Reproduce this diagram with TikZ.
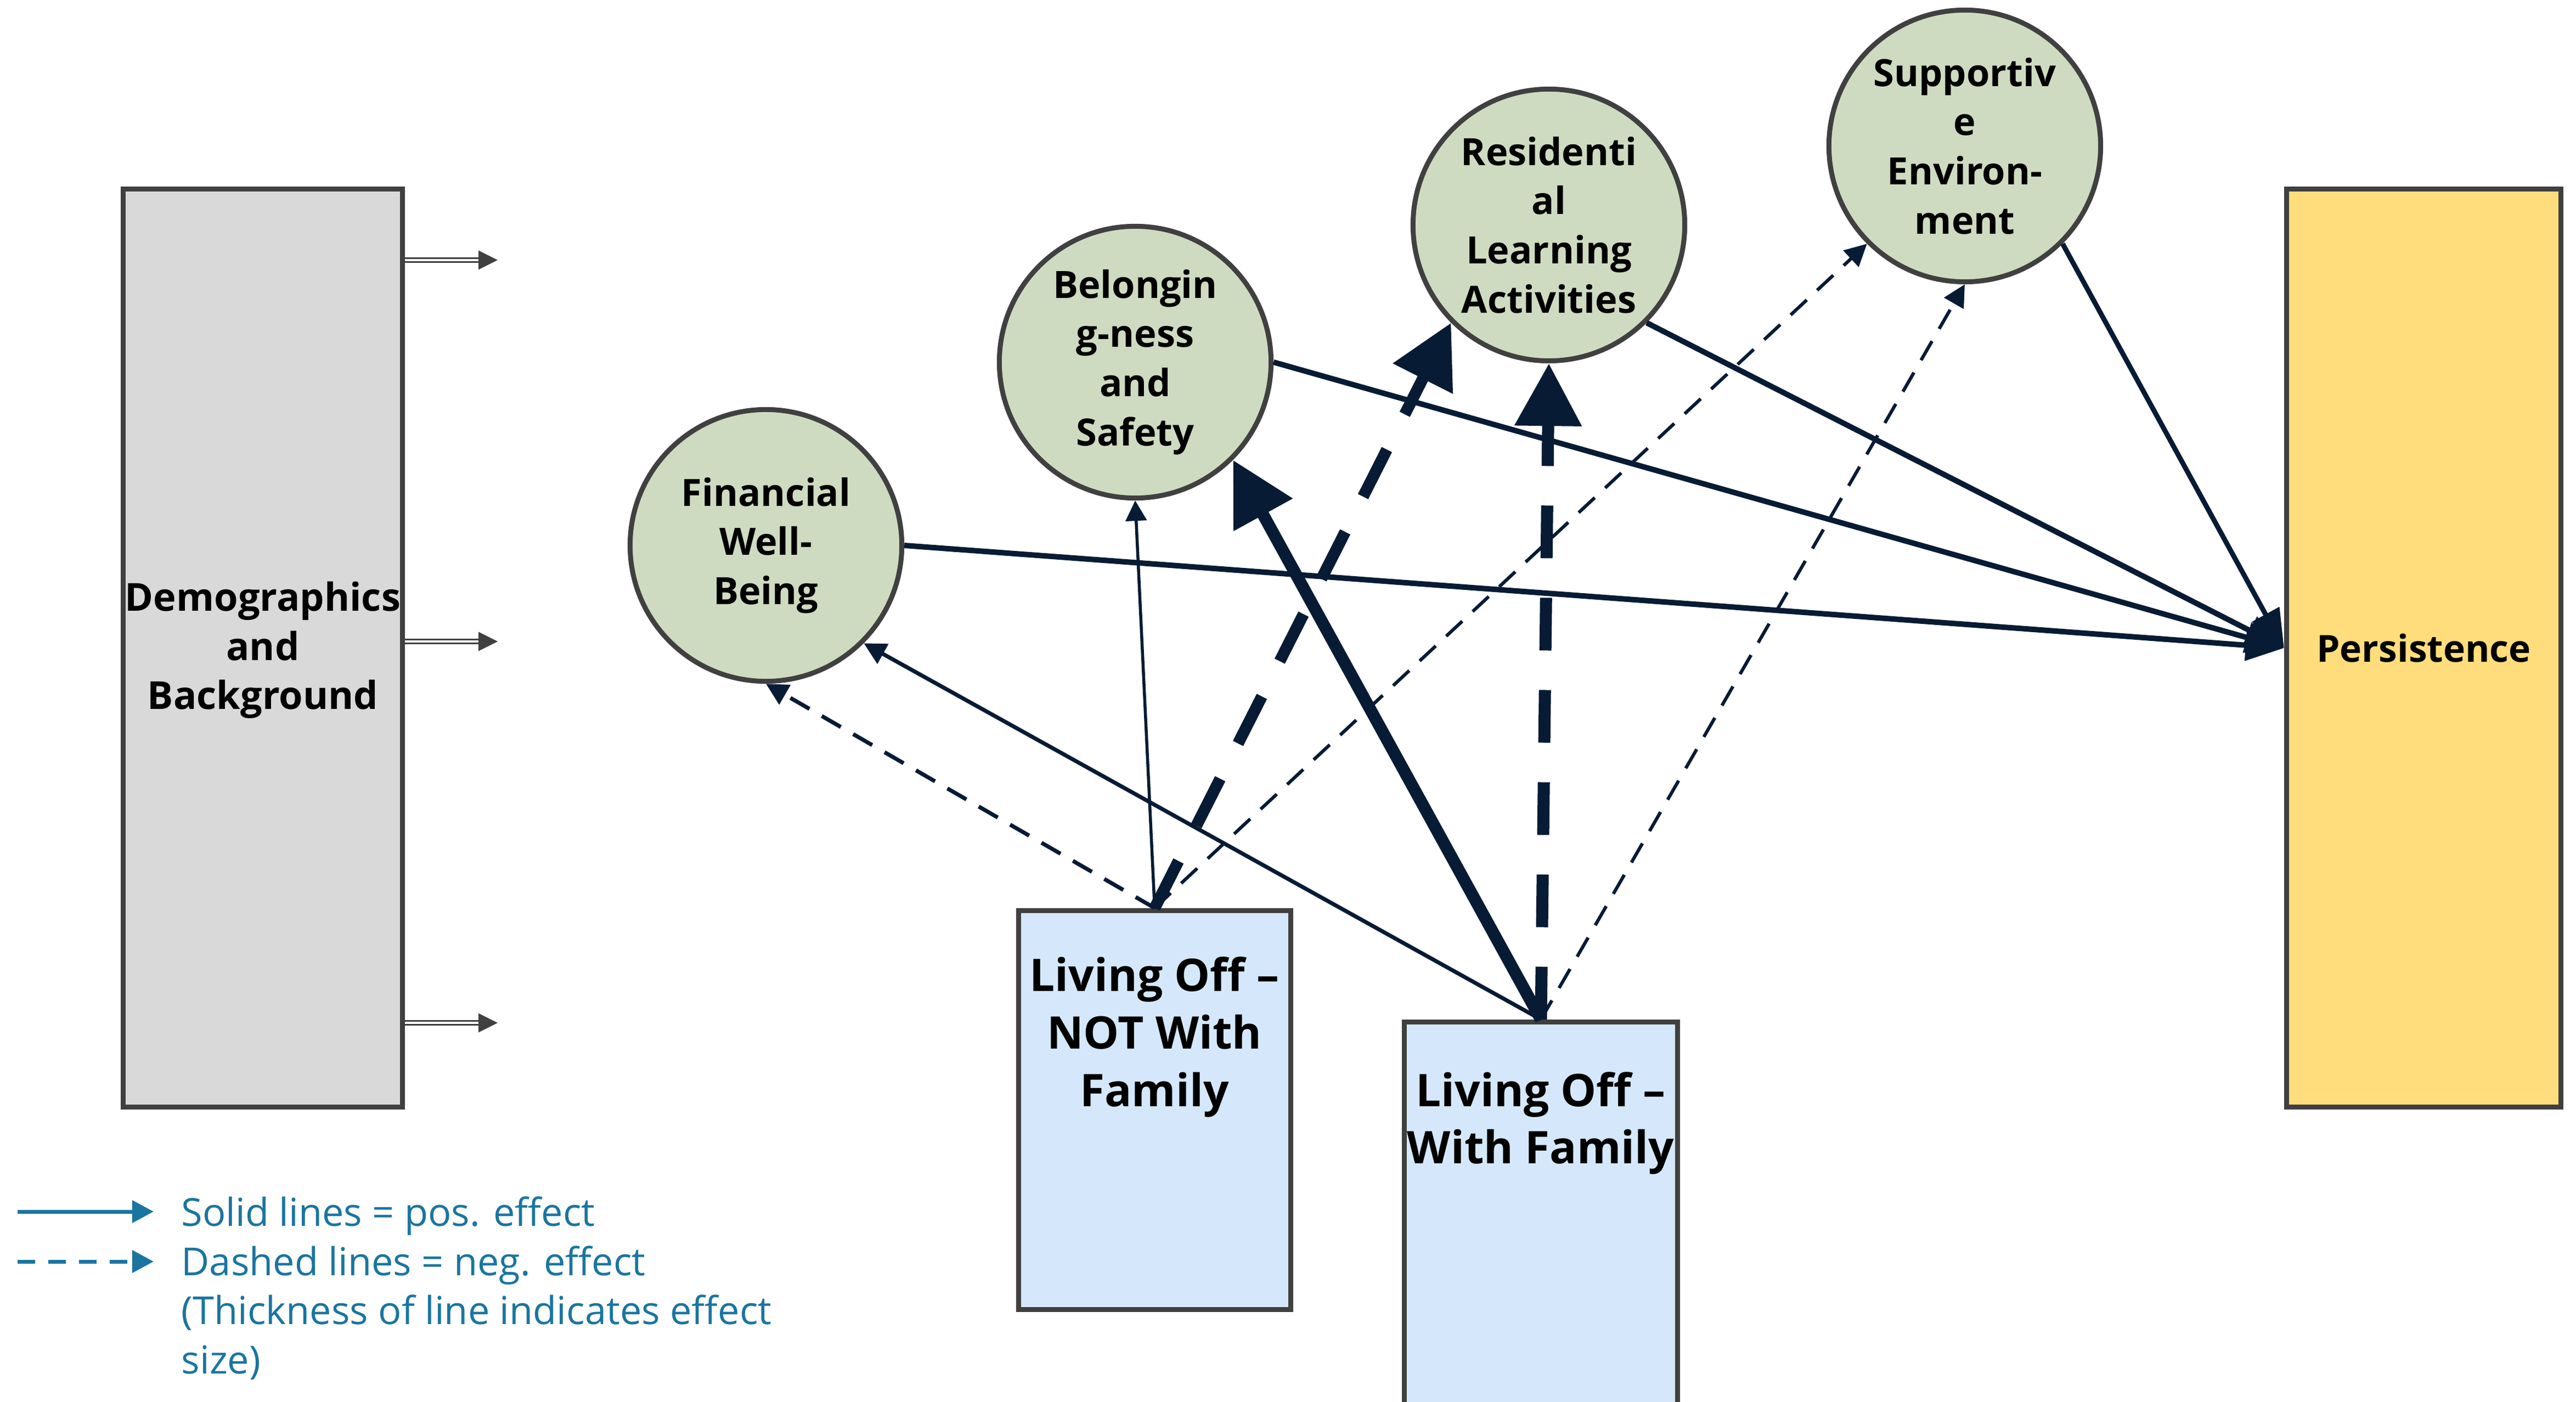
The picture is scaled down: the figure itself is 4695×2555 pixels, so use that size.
\documentclass[tikz,border=0pt]{standalone}
\usepackage{fontspec}
\setmainfont{Open Sans}
\usetikzlibrary{arrows.meta}
\definecolor{edgegray}{RGB}{64,64,64}
\definecolor{circfill}{RGB}{206,219,193}
\definecolor{boxblue}{RGB}{213,232,251}
\definecolor{persfill}{RGB}{255,221,125}
\definecolor{demofill}{RGB}{217,217,217}
\definecolor{connavy}{RGB}{7,27,52}
\definecolor{legblue}{RGB}{26,117,160}
\begin{document}
\begin{tikzpicture}[x=0.01cm,y=-0.01cm,
  circnode/.style={circle, draw=edgegray, fill=circfill, line width=0.09cm, minimum size=4.95cm, inner sep=0pt, align=center, font=\bfseries\fontsize{19.5}{25.5}\selectfont},
  bigbox/.style={rectangle, draw=edgegray, line width=0.09cm, inner sep=0pt, align=center},
  boxtext/.style={align=center, inner sep=0pt, font=\bfseries\fontsize{23.3}{29.8}\selectfont},
  conn/.style={draw=connavy, line cap=butt},
  thinline/.style={conn, line width=0.072cm, -{Triangle[length=0.4cm,width=0.4cm]}},
  hairline/.style={conn, line width=0.055cm, -{Triangle[length=0.37cm,width=0.38cm]}},
  medline/.style={conn, line width=0.1cm, -{Triangle[length=0.7cm,width=0.55cm]}},
  thickline/.style={conn, line width=0.22cm, -{Triangle[length=1.14cm,width=1.17cm]}},
  thindash/.style={dash pattern=on 0.4cm off 0.26cm},
  thickdash/.style={dash pattern=on 0.96cm off 0.72cm},
  demoshaft/.style={draw=edgegray, line width=0.03cm, double=white, double distance=0.04cm},
  legline/.style={draw=legblue, line width=0.07cm, -{Triangle[length=0.39cm,width=0.4cm]}},
  legtext/.style={text=legblue, align=left, inner sep=0pt, font=\fontsize{20}{25.5}\selectfont}
]
\useasboundingbox (0,0) rectangle (4695,2555);

% big boxes
\node[bigbox, fill=demofill, minimum width=5.09cm, minimum height=16.73cm] (demo) at (479,1181) {};
\node[bigbox, fill=persfill, minimum width=5.0cm, minimum height=16.73cm,
      font=\bfseries\fontsize{19.3}{25.5}\selectfont] (pers) at (4417.5,1181) {Persistence};
\node[align=center, inner sep=0pt, font=\bfseries\fontsize{20}{25.5}\selectfont] (demotxt) at (479,1185) {Demographics\\and\\Background};

% living boxes
\node[bigbox, fill=boxblue, minimum width=4.96cm, minimum height=7.27cm] (not) at (2104.5,2023) {};
\node[bigbox, fill=boxblue, minimum width=4.98cm, minimum height=7.4cm] (with) at (2808.5,2232.5) {};
\node[boxtext] (nottxt) at (2104,1890) {Living Off –\\NOT With\\Family};
\node[boxtext] (withtxt) at (2808,2047) {Living Off –\\With Family};

% circles
\node[circnode] (fin) at (1396,994) {Financial\\Well-\\Being};
\node[circnode] (bel) at (2069,660) {Belongin\\g-ness\\and\\Safety};
\node[circnode] (res) at (2823,410) {Residenti\\al\\Learning\\Activities};
\node[circnode] (sup) at (3581,266) {Supportiv\\e\\Environ-\\ment};

% demographics arrows
\foreach \yy/\nm in {474/da,1169/db,1864/dc}{
  \coordinate (\nm) at (872,\yy);
  \draw[demoshaft] (demo.east |- \nm) -- (\nm);
  \fill[edgegray] (\nm) ++(0,-17.5) -- ++(35,17.5) -- ++(-35,17.5) -- cycle;
}

% effects on persistence
\draw[medline] (fin.east) -- (pers.west);
\draw[medline] (bel.east) -- (pers.west);
\draw[medline] (res.-45) -- (pers.west);
\draw[medline, line width=0.09cm] (sup.-45) -- (pers.west);

% living off - not with family
\draw[thinline, thindash] (not.north) -- (fin.south);
\draw[hairline] (not.north) -- (bel.south);
\draw[thickline, thickdash, line width=0.21cm] (not.north) -- (res.-135);
\draw[thinline, thindash, line width=0.06cm] (not.north) -- (sup.-135);

% living off - with family
\draw[thinline] (with.north) -- (fin.-45);
\draw[thickline] (with.north) -- (bel.-45);
\draw[thickline, thickdash] (with.north) -- (res.south);
\draw[thinline, thindash, line width=0.06cm] (with.north) -- (sup.south);

% legend
\coordinate (l1a) at (32,2208);
\coordinate (l1b) at (280,2208);
\coordinate (l2a) at (32,2299);
\coordinate (l2b) at (280,2299);
\draw[legline] (l1a) -- (l1b);
\draw[legline, dash pattern=on 0.32cm off 0.24cm] (l2a) -- (l2b);
\node[legtext, anchor=north west] (legtxt) at (330,2180) {Solid lines = pos. effect\\Dashed lines = neg. effect\\(Thickness of line indicates effect\\size)};
\end{tikzpicture}
\end{document}
